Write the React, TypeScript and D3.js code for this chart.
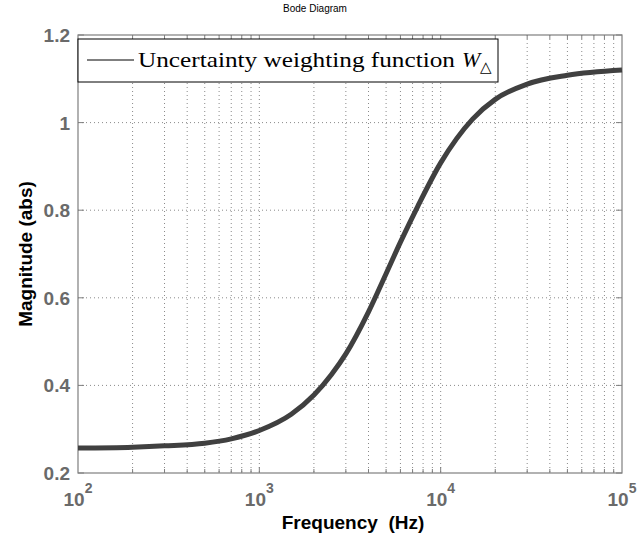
import React from 'react';
import * as d3 from 'd3';

// frequency (Hz) and magnitude
const freqs = [100, 200, 300, 500, 700, 1000, 1500, 2000, 2500, 3000, 4000, 5000, 6000, 7500, 10000, 15000, 20000, 30000, 50000, 100000];
const mags = [0.257, 0.259, 0.262, 0.268, 0.278, 0.297, 0.334, 0.378, 0.425, 0.472, 0.568, 0.655, 0.727, 0.81, 0.908, 1.008, 1.053, 1.088, 1.108, 1.12];
const yTicks = [0.2, 0.4, 0.6, 0.8, 1, 1.2];
const decades = [2, 3, 4, 5];

const width = 639;
const height = 544;
const margin = { top: 35, right: 17, bottom: 71, left: 78 };

export default function App() {
  const innerW = width - margin.left - margin.right;
  const innerH = height - margin.top - margin.bottom;

  const x = d3.scaleLog().domain([100, 100000]).range([0, innerW]);
  const y = d3.scaleLinear().domain([0.2, 1.2]).range([innerH, 0]);

  const data = freqs.map((f, i) => [f, mags[i]] as [number, number]);
  const line = d3
    .line<[number, number]>()
    .x((d) => x(d[0]))
    .y((d) => y(d[1]))
    .curve(d3.curveMonotoneX);

  const allX = x.ticks(30).filter((t) => t > 100 && t < 100000);
  const majorX = allX.filter((t) => Math.abs(Math.log10(t) - Math.round(Math.log10(t))) < 1e-9);
  const gridCol = '#8a8a8a';
  const axisCol = '#7f7f7f';
  const labelCol = '#6a6a6a';

  return (
    <svg width={width} height={height} style={{ position: 'absolute', left: 0, top: 0 }}>
      <rect width={width} height={height} fill="#fff" />
      <text x={315} y={12} fontFamily="Liberation Sans, Arial" fontSize={10} textAnchor="middle" fill="#000">
        Bode Diagram
      </text>
      <g transform={`translate(${margin.left},${margin.top})`}>
        {/* vertical grid */}
        {allX.map((t) => (
          <line key={'gx' + t} x1={x(t)} x2={x(t)} y1={0} y2={innerH} stroke={gridCol} strokeWidth={1} strokeDasharray="1,3" />
        ))}
        {/* horizontal grid */}
        {yTicks.slice(1, -1).map((t) => (
          <line key={'gy' + t} x1={0} x2={innerW} y1={y(t)} y2={y(t)} stroke={gridCol} strokeWidth={1} strokeDasharray="1,3" />
        ))}
        {/* ticks */}
        {allX.map((t) => {
          const len = majorX.includes(t) ? 6 : 4;
          return (
            <g key={'tx' + t}>
              <line x1={x(t)} x2={x(t)} y1={innerH} y2={innerH - len} stroke={axisCol} />
              <line x1={x(t)} x2={x(t)} y1={0} y2={len} stroke={axisCol} />
            </g>
          );
        })}
        {yTicks.map((t) => (
          <g key={'ty' + t}>
            <line x1={0} x2={6} y1={y(t)} y2={y(t)} stroke={axisCol} />
            <line x1={innerW} x2={innerW - 6} y1={y(t)} y2={y(t)} stroke={axisCol} />
          </g>
        ))}
        <rect x={0} y={0} width={innerW} height={innerH} fill="none" stroke={axisCol} strokeWidth={1.2} />

        {/* curve */}
        <path d={line(data) ?? ''} fill="none" stroke="#404040" strokeWidth={5} />

        {/* legend */}
        <rect x={0} y={4} width={420} height={43} fill="#fff" stroke="#000" strokeWidth={1} />
        <line x1={9} x2={56} y1={25} y2={25} stroke="#000" strokeWidth={1} />
        <text x={60} y={32} fontFamily="Liberation Serif, Times New Roman, serif" fontSize={22} fill="#000">
          <tspan textLength={317} lengthAdjust="spacingAndGlyphs">Uncertainty weighting function</tspan>
          <tspan dx={7} fontStyle="italic">W</tspan>
          <tspan dy={5} fontSize={15}>△</tspan>
        </text>

        {/* y tick labels */}
        {yTicks.map((t) => (
          <text key={'ly' + t} x={-8} y={y(t) + 7} textAnchor="end" fontFamily="Liberation Sans, Arial" fontWeight="bold" fontSize={19} fill={labelCol}>
            {d3.format('~g')(t)}
          </text>
        ))}
        {/* x tick labels */}
        {decades.map((e) => (
          <text key={'lx' + e} x={x(Math.pow(10, e))} y={innerH + 33} textAnchor="middle" fontFamily="Liberation Sans, Arial" fontWeight="bold" fontSize={19} fill={labelCol}>
            10
            <tspan dy={-13} fontSize={14}>{e}</tspan>
          </text>
        ))}
        <text x={innerW / 2 + 3} y={innerH + 56} textAnchor="middle" fontFamily="Liberation Sans, Arial" fontWeight="bold" fontSize={19} fill="#000" style={{ whiteSpace: 'pre' }}>
          {'Frequency  (Hz)'}
        </text>
        <text transform={`translate(${-46},${innerH / 2})rotate(-90)`} textAnchor="middle" fontFamily="Liberation Sans, Arial" fontWeight="bold" fontSize={19} fill="#000">
          Magnitude (abs)
        </text>
      </g>
    </svg>
  );
}
